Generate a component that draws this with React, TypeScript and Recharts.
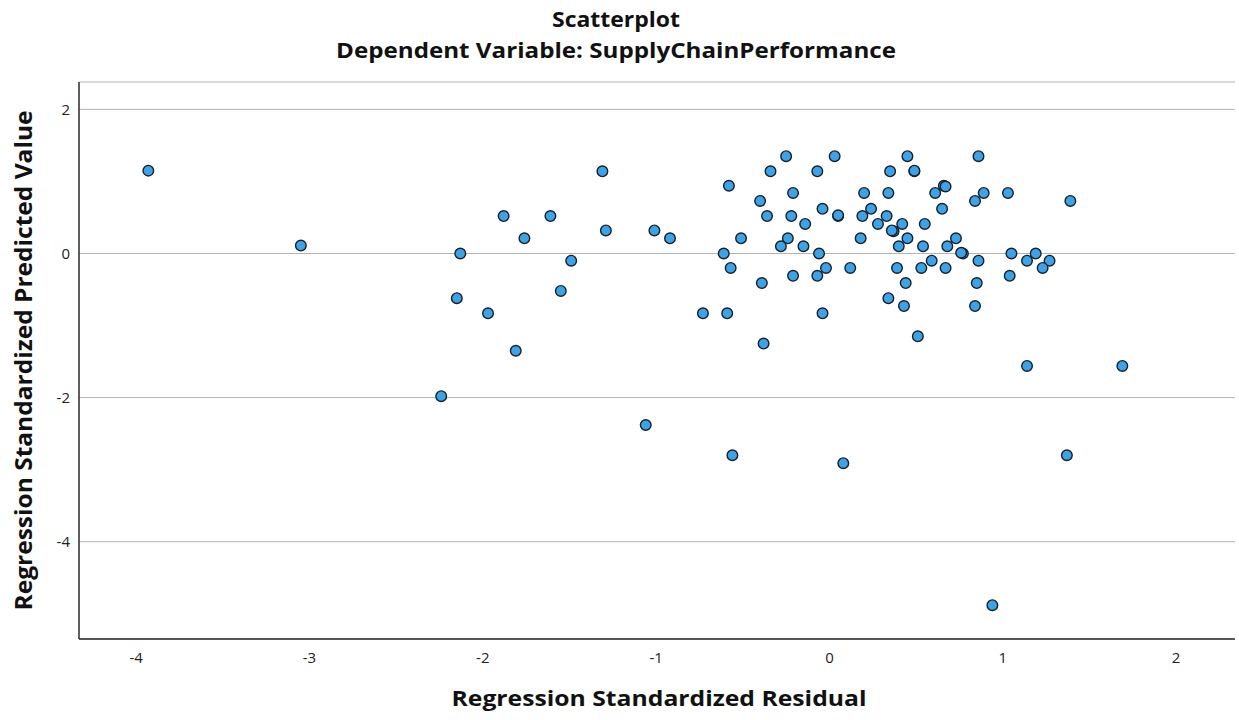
import {
  ScatterChart,
  Scatter,
  XAxis,
  YAxis,
  CartesianGrid,
  Label,
} from "recharts";

// standardized residual (x) and standardized predicted value (y)
const residual = [
  -0.25, 0.03, 0.45, 0.86, -0.34, -0.07, 0.35, 0.49, 0.49, -3.93, -1.31,
  -0.58, 0.66, 0.67, -0.21, 0.2, 0.34, 0.61, 0.89, 1.03, -0.4, 0.84, 1.39,
  -0.04, 0.24, 0.65, 0.05, 0.05, -0.36, -0.22, 0.19, 0.33, -1.88, -1.61,
  -0.14, 0.28, 0.42, 0.55, 0.37, 0.36, -1.29, -1.01, -0.51, -0.24, 0.18,
  0.45, 0.73, -0.92, -1.76, -0.28, -0.15, 0.4, 0.54, 0.68, -3.05, -0.61,
  -0.06, 0.77, 0.76, 1.05, 1.19, -2.13, 0.59, 0.86, 1.14, 1.27, -1.49,
  -0.57, -0.02, 0.12, 0.39, 0.53, 0.67, 1.23, -0.07, -0.21, 1.04, -0.39,
  0.44, 0.85, -1.55, 0.34, -2.15, 0.43, 0.84, -0.73, -0.59, -0.04, -1.97,
  0.51, -0.38, -1.81, 1.14, 1.69, -2.24, -1.06, -0.56, 1.37, 0.08, 0.94,
];

const predicted = [
  1.35, 1.35, 1.35, 1.35, 1.14, 1.14, 1.14, 1.14, 1.15, 1.15, 1.14, 0.94,
  0.94, 0.93, 0.84, 0.84, 0.84, 0.84, 0.84, 0.84, 0.73, 0.73, 0.73, 0.62,
  0.62, 0.62, 0.52, 0.53, 0.52, 0.52, 0.52, 0.52, 0.52, 0.52, 0.41, 0.41,
  0.41, 0.41, 0.31, 0.32, 0.32, 0.32, 0.21, 0.21, 0.21, 0.21, 0.21, 0.21,
  0.21, 0.1, 0.1, 0.1, 0.1, 0.1, 0.11, 0.0, 0.0, 0.0, 0.01, 0.0, 0.0, 0.0,
  -0.1, -0.1, -0.1, -0.1, -0.1, -0.2, -0.2, -0.2, -0.2, -0.2, -0.2, -0.2,
  -0.31, -0.31, -0.31, -0.41, -0.41, -0.41, -0.52, -0.62, -0.62, -0.73,
  -0.73, -0.83, -0.83, -0.83, -0.83, -1.15, -1.25, -1.35, -1.56, -1.56,
  -1.98, -2.38, -2.8, -2.8, -2.91, -4.88,
];

const xTicks = [-4, -3, -2, -1, 0, 1, 2];
const yTicks = [-4, -2, 0, 2];

const font = "'Open Sans', 'DejaVu Sans', sans-serif";

const Dot = (p: any) => (
  <circle
    cx={p.cx}
    cy={p.cy}
    r={5.3}
    fill="#3fa2e4"
    stroke="#15202b"
    strokeWidth={1.4}
  />
);

export default function App() {
  const data = residual.map((x, i) => ({ x, y: predicted[i] }));

  return (
    <div
      style={{
        position: "absolute",
        left: 0,
        top: 0,
        width: 1239,
        height: 720,
        background: "#fff",
        fontFamily: font,
      }}
    >
      <svg
        width={1239}
        height={80}
        style={{ position: "absolute", left: 0, top: 0 }}
      >
        <text
          x={616}
          y={27}
          textAnchor="middle"
          fontSize={21}
          fontWeight={700}
          fill="#111"
          textLength={128}
          lengthAdjust="spacingAndGlyphs"
        >
          Scatterplot
        </text>
        <text
          x={616}
          y={58}
          textAnchor="middle"
          fontSize={21}
          fontWeight={700}
          fill="#111"
          textLength={560}
          lengthAdjust="spacingAndGlyphs"
        >
          Dependent Variable: SupplyChainPerformance
        </text>
      </svg>
      <ScatterChart
        width={1239}
        height={720}
        margin={{ top: 82, right: 4, bottom: 41, left: 39 }}
      >
        <CartesianGrid vertical={false} stroke="#b4b4b4" strokeWidth={1} />
        <XAxis
          type="number"
          dataKey="x"
          domain={[-4.33, 2.34]}
          ticks={xTicks}
          allowDataOverflow
          height={40}
          tickLine={false}
          tickSize={6}
          tickMargin={7}
          axisLine={{ stroke: "#2a2a2a", strokeWidth: 1.5 }}
          tick={{ fill: "#222", fontSize: 15, fontFamily: font }}
        >
          <Label
            content={(props: any) => {
              const vb = props.viewBox;
              return (
                <text
                  x={vb.x + vb.width / 2 + 2}
                  y={706}
                  textAnchor="middle"
                  fontSize={22}
                  fontWeight={700}
                  fill="#111"
                  fontFamily={font}
                  textLength={415}
                  lengthAdjust="spacingAndGlyphs"
                >
                  Regression Standardized Residual
                </text>
              );
            }}
          />
        </XAxis>
        <YAxis
          type="number"
          dataKey="y"
          domain={[-5.35, 2.38]}
          ticks={yTicks}
          allowDataOverflow
          width={40}
          tickLine={false}
          tickSize={6}
          tickMargin={3}
          axisLine={{ stroke: "#2a2a2a", strokeWidth: 1.5 }}
          tick={{ fill: "#222", fontSize: 15, fontFamily: font }}
        >
          <Label
            content={(props: any) => {
              const vb = props.viewBox;
              const cy = vb.y + vb.height / 2;
              return (
                <text
                  x={32}
                  y={cy}
                  transform={`rotate(-90 32 ${cy})`}
                  textAnchor="middle"
                  fontSize={23}
                  fontWeight={700}
                  fill="#111"
                  fontFamily={font}
                  textLength={500}
                  lengthAdjust="spacingAndGlyphs"
                >
                  Regression Standardized Predicted Value
                </text>
              );
            }}
          />
        </YAxis>
        <Scatter data={data} shape={Dot} isAnimationActive={false} />
      </ScatterChart>
    </div>
  );
}
